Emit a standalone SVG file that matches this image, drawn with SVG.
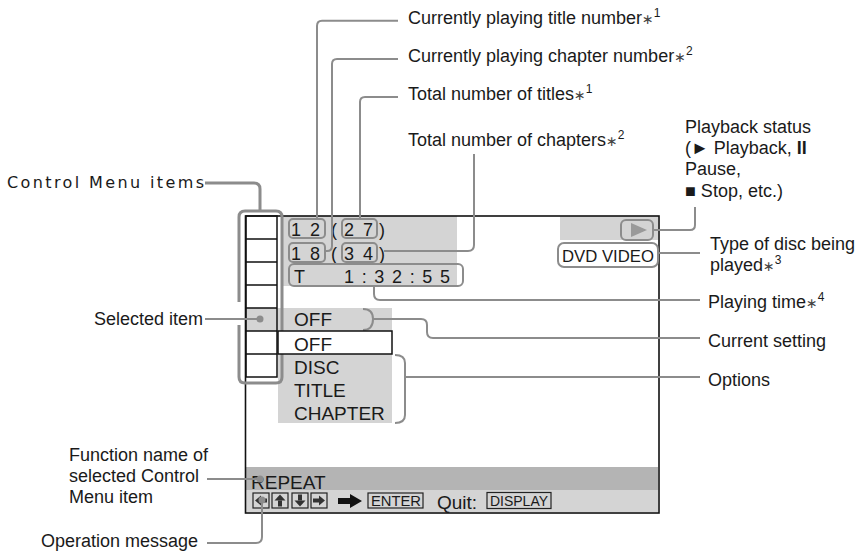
<svg xmlns="http://www.w3.org/2000/svg" width="859" height="554" viewBox="0 0 859 554">
<style>
.lbl{font-family:"Liberation Sans",Arial,"DejaVu Sans",sans-serif;font-size:18px;fill:#1a1a1a}
.osd{font-family:"Liberation Sans",Arial,sans-serif;font-size:19px;fill:#1a1a1a}
.key{font-family:"Liberation Sans",Arial,sans-serif;font-size:15px;fill:#1a1a1a}
.ast{font-size:14px;fill:#444}
.sup{font-size:12px}
.con{fill:none;stroke:#8c8c8c;stroke-width:2}
.box{fill:none;stroke:#8c8c8c;stroke-width:2}
.kb{fill:none;stroke:#222;stroke-width:1.2}
.cell{fill:none;stroke:#111;stroke-width:1.5}
.dot{fill:#8c8c8c}
.gl{fill:#d4d4d4}
</style>
<rect width="859" height="554" fill="#fff"/>

<g id="screen">
  <rect class="gl" x="283" y="216" width="174" height="70"/>
  <rect class="gl" x="560" y="216" width="98" height="24"/>
  <rect class="gl" x="246" y="308" width="146" height="23"/>
  <rect class="gl" x="278" y="354" width="114" height="69"/>
  <rect fill="#b4b4b4" x="246" y="467" width="412" height="23"/>
  <rect class="gl" x="246" y="490" width="412" height="22"/>
  <rect x="245.5" y="216" width="413.5" height="297" fill="none" stroke="#111" stroke-width="1.6"/>
</g>

<g id="menu">
  <rect class="cell" x="246" y="216" width="31" height="161"/>
  <path class="cell" d="M246,239H277M246,262H277M246,285H277M246,308H277M246,331H277M246,354H277"/>
  <path d="M260,211 H245 Q239,211 239,217 V302 M239,325 V377 Q239,383 245,383 H276 Q282,383 282,377 V217 Q282,211 276,211 H260" fill="none" stroke="#8c8c8c" stroke-width="3"/>
</g>

<g id="title-row">
  <rect class="box" x="289" y="219" width="36" height="19" rx="4"/>
  <text class="osd" x="291" y="236" style="letter-spacing:2px;font-size:18px">1 2</text>
  <text class="osd" x="331" y="236" style="font-size:18px">(</text>
  <rect class="box" x="342" y="219" width="35" height="19" rx="4"/>
  <text class="osd" x="344" y="236" style="letter-spacing:2px;font-size:18px">2 7</text>
  <text class="osd" x="379" y="236" style="font-size:18px">)</text>
</g>
<g id="chapter-row">
  <rect class="box" x="289" y="243" width="36" height="19" rx="4"/>
  <text class="osd" x="291" y="259.5" style="letter-spacing:2px;font-size:18px">1 8</text>
  <text class="osd" x="331" y="259.5" style="font-size:18px">(</text>
  <rect class="box" x="342" y="243" width="35" height="19" rx="4"/>
  <text class="osd" x="344" y="259.5" style="letter-spacing:2px;font-size:18px">3 4</text>
  <text class="osd" x="379" y="259.5" style="font-size:18px">)</text>
</g>
<g id="time-row">
  <rect class="box" x="289" y="264" width="174" height="22" rx="5"/>
  <text class="osd" x="294" y="283" style="font-size:18px">T</text>
  <text class="osd" x="344" y="283" style="font-size:18px" textLength="106" lengthAdjust="spacing">1:32:55</text>
</g>
<g id="play-status">
  <rect class="box" x="621" y="220" width="32" height="20" rx="5"/>
  <polygon points="631,223 647,230 631,237" fill="#9a9a9a"/>
</g>
<g id="disc-type">
  <rect class="box" x="558" y="243" width="100" height="24" rx="6"/>
  <text class="osd" x="562" y="262" style="font-size:17px" textLength="92" lengthAdjust="spacingAndGlyphs">DVD VIDEO</text>
</g>
<g id="setting">
  <text class="osd" x="294" y="325.7">OFF</text>
  <path class="con" d="M363,309 Q373,309 373,319 Q373,330 363,330"/>
</g>
<g id="options">
  <rect x="278" y="331" width="114" height="23" fill="#fff" stroke="#111" stroke-width="1.5"/>
  <text class="osd" x="294" y="350.5">OFF</text>
  <text class="osd" x="294" y="373.5">DISC</text>
  <text class="osd" x="294" y="397">TITLE</text>
  <text class="osd" x="294" y="420">CHAPTER</text>
  <path class="con" d="M395,355 Q405,355 405,363 V415 Q405,423 395,423"/>
</g>
<g id="function-name">
  <text class="osd" x="251" y="488.5">REPEAT</text>
</g>
<g id="operation-message">
  <rect class="kb" x="253" y="493" width="16" height="15"/>
  <rect class="kb" x="272" y="493" width="16" height="15"/>
  <rect class="kb" x="292" y="493" width="16" height="15"/>
  <rect class="kb" x="311" y="493" width="16" height="15"/>
  <g fill="#333">
    <polygon points="255,500.5 261,495.5 261,505.5"/><rect x="261" y="498.5" width="6" height="4"/>
    <polygon points="280,494.5 274.5,500.5 285.5,500.5"/><rect x="278" y="500.5" width="4" height="6"/>
    <polygon points="300,506.5 294.5,500.5 305.5,500.5"/><rect x="298" y="494.5" width="4" height="6"/>
    <polygon points="325,500.5 319,495.5 319,505.5"/><rect x="313" y="498.5" width="6" height="4"/>
  </g>
  <polygon points="338,498 350,498 350,494 362,501 350,508 350,504 338,504" fill="#111"/>
  <rect class="kb" x="368" y="493" width="55" height="15"/>
  <text class="key" x="371" y="506" textLength="50" lengthAdjust="spacingAndGlyphs">ENTER</text>
  <text class="osd" x="437" y="509" style="font-size:19px">Quit:</text>
  <rect class="kb" x="487" y="492.5" width="64" height="16"/>
  <text class="key" x="490" y="506" style="font-size:14px" textLength="58" lengthAdjust="spacingAndGlyphs">DISPLAY</text>
</g>

<g id="labels">
  <text class="lbl" x="408" y="24">Currently playing title number<tspan class="ast">∗</tspan><tspan class="sup" dy="-7">1</tspan></text>
  <text class="lbl" x="408" y="62">Currently playing chapter number<tspan class="ast">∗</tspan><tspan class="sup" dy="-7">2</tspan></text>
  <text class="lbl" x="408" y="100">Total number of titles<tspan class="ast">∗</tspan><tspan class="sup" dy="-7">1</tspan></text>
  <text class="lbl" x="408" y="146">Total number of chapters<tspan class="ast">∗</tspan><tspan class="sup" dy="-7">2</tspan></text>
  <text class="lbl" x="685" y="133">Playback status</text>
  <text class="lbl" x="685" y="154">(► Playback, <tspan font-weight="bold">II</tspan></text>
  <text class="lbl" x="685" y="175">Pause,</text>
  <text class="lbl" x="685" y="197">■ Stop, etc.)</text>
  <text class="lbl" x="710" y="250">Type of disc being</text>
  <text class="lbl" x="710" y="271">played<tspan class="ast">∗</tspan><tspan class="sup" dy="-7">3</tspan></text>
  <text class="lbl" x="708" y="308">Playing time<tspan class="ast">∗</tspan><tspan class="sup" dy="-7">4</tspan></text>
  <text class="lbl" x="708" y="347">Current setting</text>
  <text class="lbl" x="708" y="386">Options</text>
  <text x="7" y="188" font-family="DejaVu Sans, sans-serif" font-size="16" fill="#1a1a1a" textLength="197" lengthAdjust="spacing">Control Menu items</text>
  <text class="lbl" x="203" y="325" text-anchor="end">Selected item</text>
  <text class="lbl" x="69" y="461">Function name of</text>
  <text class="lbl" x="69" y="482">selected Control</text>
  <text class="lbl" x="69" y="503">Menu item</text>
  <text class="lbl" x="41" y="547">Operation message</text>
</g>

<g id="connectors">
  <path class="con" d="M317,219 V26 Q317,20.7 322,20.7 H398"/>
  <path class="con" d="M325,251 H327 Q332,251 332,246 V64 Q332,59 337,59 H398"/>
  <path class="con" d="M360,219 V102 Q360,97 365,97 H398"/>
  <path class="con" d="M384,251 H468 Q474,251 474,245 V154"/>
  <path class="con" d="M653,230 H690 Q695,230 695,225 V207"/>
  <path class="con" d="M658,253 H700"/>
  <path class="con" d="M374,286 V294 Q374,300 380,300 H700"/>
  <path class="con" d="M373,319 H421 Q427,319 427,325 V332 Q427,338 433,338 H700"/>
  <path class="con" d="M405,377 H700"/>
  <path d="M205,183 H254 Q260,183 260,189 V211" fill="none" stroke="#8c8c8c" stroke-width="3"/>
  <path class="con" d="M205,319 H260"/>
  <circle class="dot" cx="260" cy="319" r="3.5"/>
  <path class="con" d="M207,479 H260"/>
  <circle class="dot" cx="260" cy="479" r="3.5"/>
  <path class="con" d="M207,543 H256 Q262,543 262,537 V500"/>
  <circle class="dot" cx="262" cy="500" r="3.5"/>
</g>
</svg>
